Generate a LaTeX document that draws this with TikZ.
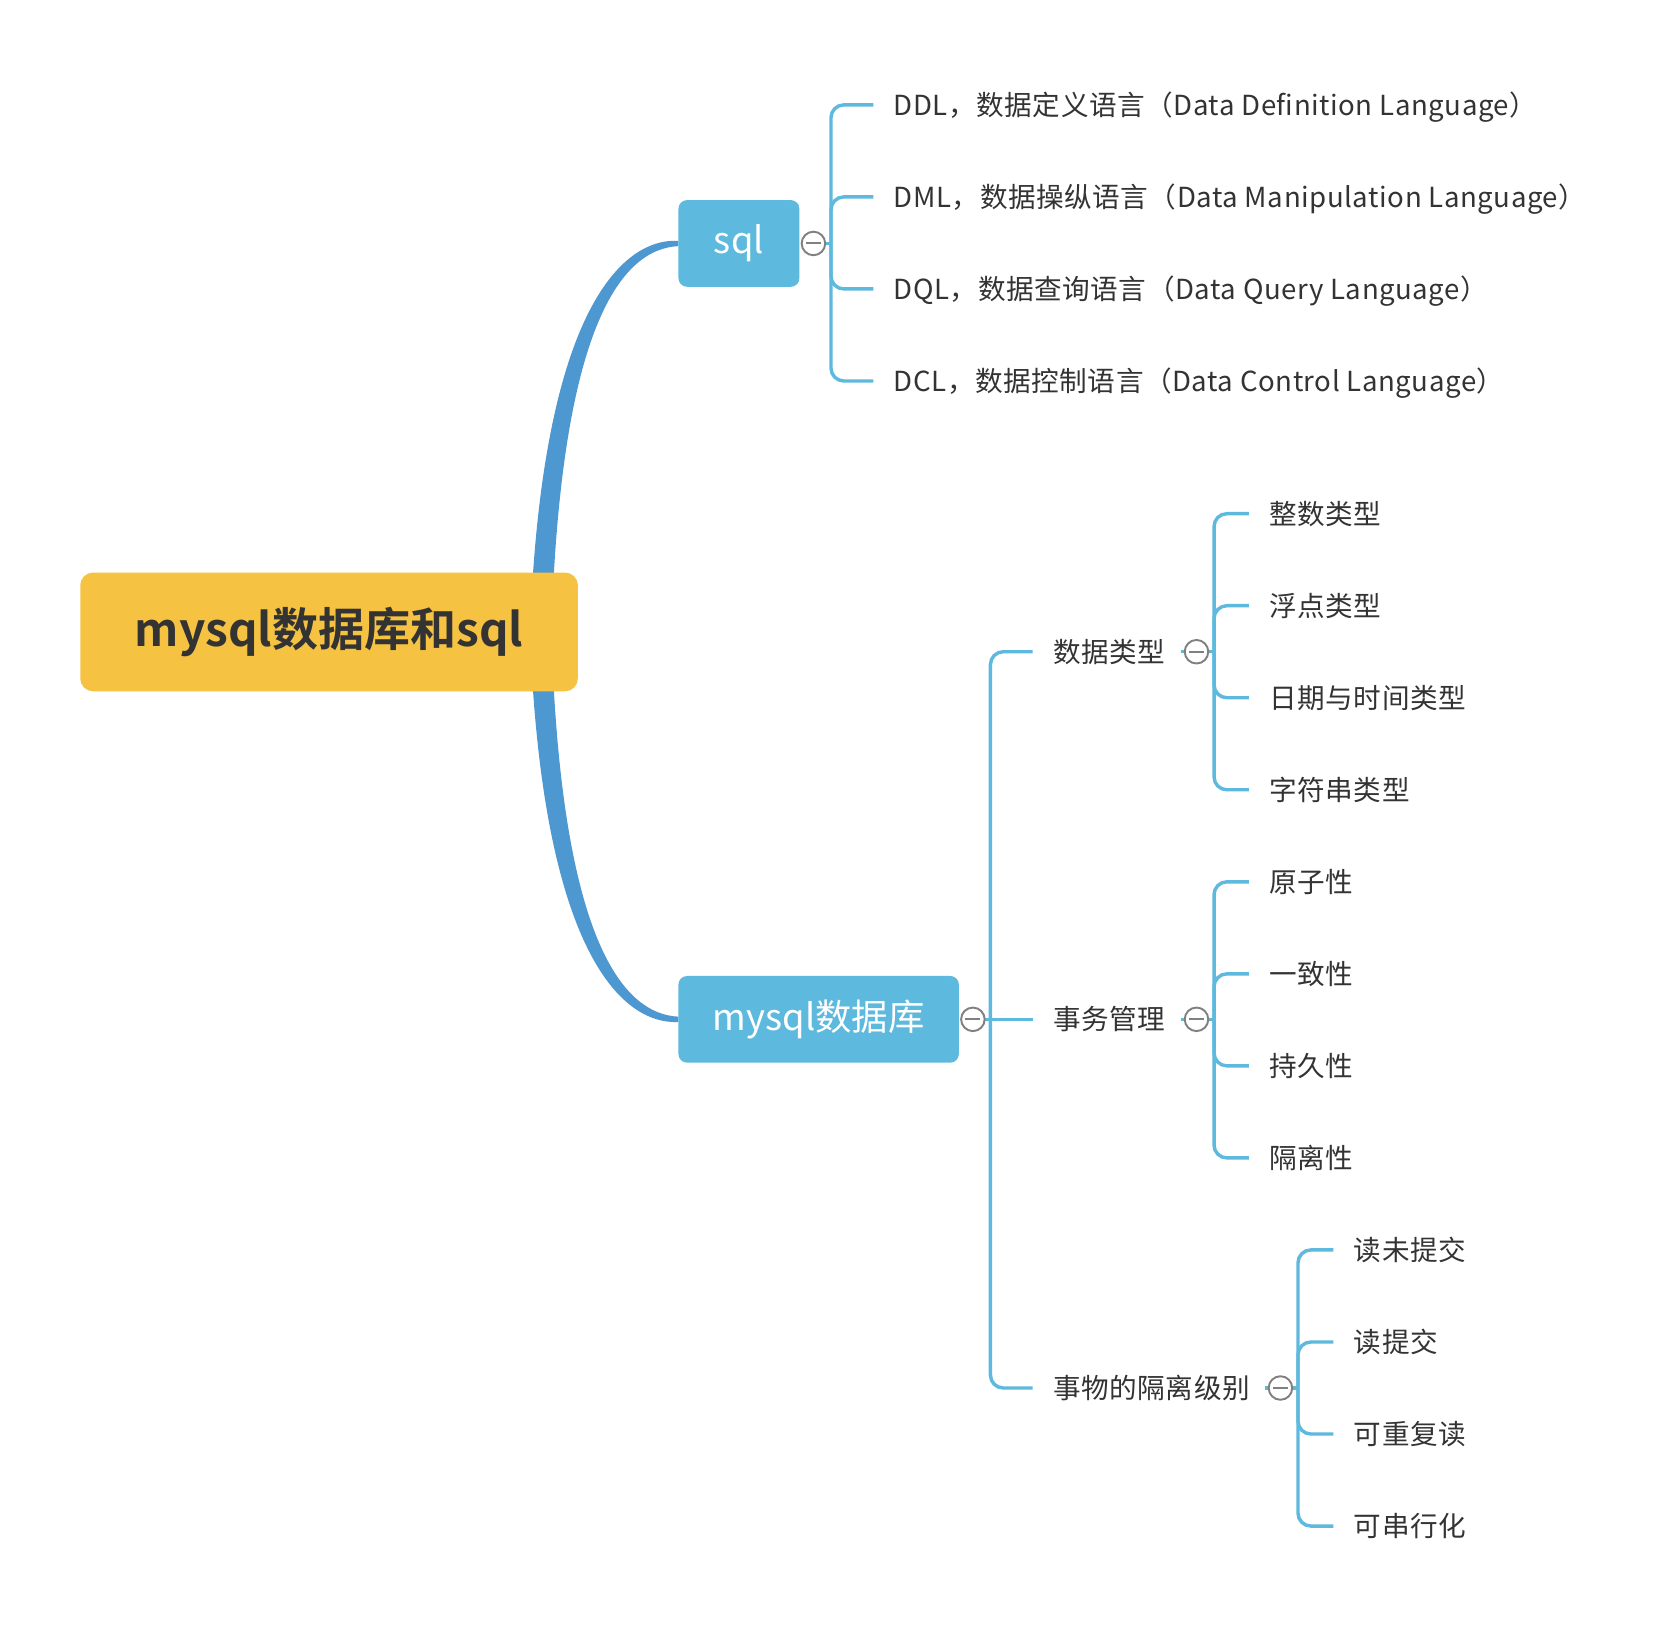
\documentclass[tikz,border=0pt]{standalone}
\usepackage{fontspec}
\setmainfont{Noto Sans CJK SC}[BoldFont={Noto Sans CJK SC Bold}]
\newfontfamily\leaffont{Noto Sans CJK SC}[LetterSpace=2]
\usetikzlibrary{
  calc,
  backgrounds,
  positioning}
\definecolor{rootyellow}{HTML}{F5C242}
\definecolor{topicblue}{HTML}{5DB9DD}
\definecolor{mainblue}{HTML}{4E98D2}
\definecolor{inkgray}{HTML}{333333}
\definecolor{foldgray}{HTML}{808080}
\tikzset{
  rootbox/.style={%
    fill=rootyellow, rounded corners=12pt,
    minimum width=465pt, minimum height=111pt,
    inner sep=0pt, text=inkgray,
    font=\fontsize{43}{52}\selectfont\bfseries
  },
  topicbox/.style={%
    fill=topicblue, rounded corners=8pt,
    minimum height=81pt, inner sep=0pt, text=white,
    font=\fontsize{34}{40}\selectfont
  },
  leaf/.style={%
    anchor=west, inner xsep=19pt, inner ysep=0pt,
    % Fixed height and depth keep every label on the same centre line.
    text height=22.7pt, text depth=3.1pt, text=inkgray,
    font=\leaffont\fontsize{25.8}{31}\selectfont
  },
  fold/.style={%
    shape=circle, draw=foldgray, line width=1.8pt, fill=white,
    minimum size=22pt, inner sep=0pt,
    path picture={\draw[foldgray, line width=1.8pt]
      ([xshift=4pt]path picture bounding box.west) --
      ([xshift=-4pt]path picture bounding box.east);}
  },
  branch/.style={%
    draw=topicblue, line width=3.2pt, rounded corners=12pt
  },
  mainfill/.style={%
    fill=mainblue
  }%
}

\begin{document}
\begin{tikzpicture}[x=1pt, y=-1pt]
\useasboundingbox (0,0) rectangle (1568,1525);

% Central topic.
\node[rootbox] (root) at (307.5,590.5) {mysql数据库和sql};

% Main topics, each with its collapse button.
\node[topicbox, minimum width=113pt] (sql) at (690.5,227.5) {sql};
\node[topicbox, minimum width=262pt] (mysql) at (765,952.5) {mysql数据库};
\node[fold, right=1pt of sql] (sqlFold) {};
\node[fold, right=1pt of mysql] (mysqlFold) {};

% Kinds of sql.
\node[leaf] (ddl) at (816,98) {DDL，数据定义语言（Data Definition Language）};
\node[leaf] (dml) at (816,184) {DML，数据操纵语言（Data Manipulation Language）};
\node[leaf] (dql) at (816,270) {DQL，数据查询语言（Data Query Language）};
\node[leaf] (dcl) at (816,356) {DCL，数据控制语言（Data Control Language）};

% Subtopics of the database.
\node[leaf] (types) at (965,609) {数据类型};
\node[leaf] (trans) at (965,952.5) {事务管理};
\node[leaf] (levels) at (965,1297) {事物的隔离级别};
\node[fold, right=-2pt of types] (typesFold) {};
\node[fold, right=-2pt of trans] (transFold) {};
\node[fold, right=-2.5pt of levels] (levelsFold) {};

% Data types.
\node[leaf] (intType) at (1167,480) {整数类型};
\node[leaf] (floatType) at (1167,566) {浮点类型};
\node[leaf] (dateType) at (1167,652) {日期与时间类型};
\node[leaf] (strType) at (1167,738) {字符串类型};

% Transaction properties.
\node[leaf] (atomic) at (1167,824) {原子性};
\node[leaf] (consist) at (1167,910) {一致性};
\node[leaf] (durable) at (1167,996) {持久性};
\node[leaf] (isolate) at (1167,1082) {隔离性};

% Isolation levels.
\node[leaf] (readUncommit) at (1246,1168) {读未提交};
\node[leaf] (readCommit) at (1246,1254) {读提交};
\node[leaf] (repeatRead) at (1246,1340) {可重复读};
\node[leaf] (serial) at (1246,1426) {可串行化};

\begin{scope}[on background layer]
% Thick tapering curves from the central topic.
\fill[mainfill] ($(root.east)+(-45,0)$)
  .. controls ($(sql.west)+(-128,70.5)$) and ($(sql.west)+(-56,-5)$)
  .. ($(sql.west)+(0,-2.5)$) -- ($(sql.west)+(0,2.5)$)
  .. controls ($(sql.west)+(-52,5)$) and ($(sql.west)+(-110,74.5)$)
  .. ($(root.east)+(-25,0)$) -- cycle;
\fill[mainfill] ($(root.east)+(-45,0)$)
  .. controls ($(mysql.west)+(-128,-70.5)$) and ($(mysql.west)+(-56,5)$)
  .. ($(mysql.west)+(0,2.5)$) -- ($(mysql.west)+(0,-2.5)$)
  .. controls ($(mysql.west)+(-52,-5)$) and ($(mysql.west)+(-110,-74.5)$)
  .. ($(root.east)+(-25,0)$) -- cycle;

% sql branches.
\draw[branch] (sqlFold.center) -- ([xshift=4.5pt]sqlFold.east) coordinate (sqlHub);
\draw[branch] (sqlHub) |- (ddl.west);
\draw[branch] (sqlHub) |- (dml.west);
\draw[branch] (sqlHub) |- (dql.west);
\draw[branch] (sqlHub) |- (dcl.west);

% Database branches.
\draw[branch] (mysqlFold.center) -- ([xshift=4.5pt]mysqlFold.east) coordinate (mysqlHub);
\draw[branch] (mysqlHub) |- (types.west);
\draw[branch] (mysqlHub) -- (trans.west);
\draw[branch] (mysqlHub) |- (levels.west);

\draw[branch] ([xshift=-3pt]typesFold.west) -- ([xshift=4.5pt]typesFold.east) coordinate (typesHub);
\draw[branch] (typesHub) |- (intType.west);
\draw[branch] (typesHub) |- (floatType.west);
\draw[branch] (typesHub) |- (dateType.west);
\draw[branch] (typesHub) |- (strType.west);

\draw[branch] ([xshift=-3pt]transFold.west) -- ([xshift=4.5pt]transFold.east) coordinate (transHub);
\draw[branch] (transHub) |- (atomic.west);
\draw[branch] (transHub) |- (consist.west);
\draw[branch] (transHub) |- (durable.west);
\draw[branch] (transHub) |- (isolate.west);

\draw[branch] ([xshift=-3pt]levelsFold.west) -- ([xshift=4.5pt]levelsFold.east) coordinate (levelsHub);
\draw[branch] (levelsHub) |- (readUncommit.west);
\draw[branch] (levelsHub) |- (readCommit.west);
\draw[branch] (levelsHub) |- (repeatRead.west);
\draw[branch] (levelsHub) |- (serial.west);
\end{scope}

\end{tikzpicture}
\end{document}
